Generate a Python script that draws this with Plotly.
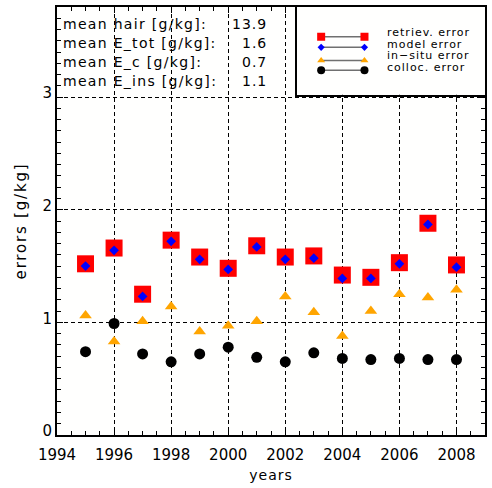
import plotly.graph_objects as go

years = [1995, 1996, 1997, 1998, 1999, 2000, 2001, 2002, 2003, 2004, 2005, 2006, 2007, 2008]
retriev_err = [1.52, 1.66, 1.25, 1.73, 1.58, 1.48, 1.68, 1.58, 1.59, 1.42, 1.40, 1.53, 1.88, 1.51]
model_err = [1.50, 1.64, 1.23, 1.72, 1.56, 1.47, 1.67, 1.56, 1.57, 1.39, 1.39, 1.52, 1.87, 1.49]
insitu_err = [1.06, 0.83, 1.01, 1.14, 0.92, 0.97, 1.01, 1.23, 1.09, 0.88, 1.10, 1.25, 1.22, 1.29]
colloc_err = [0.74, 0.99, 0.72, 0.65, 0.72, 0.78, 0.69, 0.65, 0.73, 0.68, 0.67, 0.68, 0.67, 0.67]

mean_labels = ["mean hair [g/kg]:", "mean E_tot [g/kg]:", "mean E_c [g/kg]:", "mean E_ins [g/kg]:"]
mean_values = ["13.9", "1.6", "0.7", "1.1"]

legend_names = ["retriev. error", "model error", "in\u2212situ error", "colloc. error"]

FONT = "DejaVu Sans"
GRIDDASH = "4px,3px"


def spaced(t, ls):
    return '<span style="letter-spacing:%.1fpx">%s</span>' % (ls, t)


fig = go.Figure()

series = [
    (retriev_err, "square", 17, "#ff0000", 8),
    (model_err, "diamond", 7.5, "#0000ff", 5.5),
    (insitu_err, "triangle-up", 11, "#ffa500", 7),
    (colloc_err, "circle", 11, "#000000", 8),
]
for vals, sym, sz, col, _ in series:
    fig.add_trace(go.Scatter(x=years, y=vals, mode="markers",
                             marker=dict(symbol=sym, size=sz, color=col, line=dict(width=0)),
                             xaxis="x", yaxis="y", showlegend=False, hoverinfo="skip"))

# legend box as its own small subplot (fractions of the box)
LB_X = [0.560, 1.0]
LB_Y = [0.795, 1.0]
leg_x = [0.13, 0.36]
leg_y = [0.66, 0.54, 0.39, 0.28]
for (vals, sym, sz, col, lsz), ly in zip(series, leg_y):
    fig.add_trace(go.Scatter(x=leg_x, y=[ly, ly], mode="lines+markers", xaxis="x2", yaxis="y2",
                             line=dict(color="#707070", width=1.5),
                             marker=dict(symbol=sym, size=lsz, color=col, line=dict(width=0)),
                             showlegend=False, hoverinfo="skip"))

annotations = []
leg_text = "<br>".join('<span style="font-size:11px;letter-spacing:1px">%s</span>' % n
                       for n in legend_names)
annotations.append(dict(x=0.47, y=0.51, xref="x2", yref="y2", text=leg_text, showarrow=False,
                        xanchor="left", yanchor="middle", align="left",
                        font=dict(family=FONT, size=9.0, color="black")))

mean_y = [0.961, 0.915, 0.871, 0.826]
for lab, val, my in zip(mean_labels, mean_values, mean_y):
    annotations.append(dict(x=0.0105, y=my, xref="x domain", yref="y domain", text=spaced(lab, 1.3),
                            showarrow=False, xanchor="left", yanchor="middle",
                            font=dict(family=FONT, size=14, color="black")))
    annotations.append(dict(x=0.495, y=my, xref="x domain", yref="y domain", text=spaced(val, 1.0),
                            showarrow=False, xanchor="right", yanchor="middle",
                            font=dict(family=FONT, size=14, color="black")))

axis_common = dict(showline=True, linecolor="black", linewidth=2, mirror="allticks",
                   ticks="inside", ticklen=6, tickwidth=1.2, tickcolor="black",
                   showgrid=True, gridcolor="black", griddash=GRIDDASH, gridwidth=1,
                   zeroline=False, automargin=False,
                   tickfont=dict(family=FONT, size=15, color="black"))

fig.update_layout(
    width=492, height=488,
    margin=dict(l=57, r=5, t=5, b=53),
    paper_bgcolor="white", plot_bgcolor="#fffffe",
    xaxis=dict(range=[1994, 2009], tick0=1994, dtick=2, domain=[0, 1], ticklabelstandoff=5,
               minor=dict(dtick=0.5, ticks="inside", ticklen=4, tickcolor="black", showgrid=False),
               title=dict(text=spaced("years", 1.0), font=dict(family=FONT, size=14, color="black"),
                          standoff=7),
               **axis_common),
    yaxis=dict(range=[0, 3.8], tick0=0, dtick=1, domain=[0, 1], ticklabelshift=-4,
               minor=dict(dtick=0.1, ticks="inside", ticklen=4, tickcolor="black", showgrid=False),
               title=dict(text=spaced("errors [g/kg]", 1.8),
                          font=dict(family=FONT, size=15, color="black"), standoff=12),
               **axis_common),
    xaxis2=dict(domain=LB_X, anchor="y2", range=[0, 1], showgrid=False, zeroline=False,
                showticklabels=False, ticks="", showline=True, mirror=True,
                linecolor="black", linewidth=1.5, fixedrange=True),
    yaxis2=dict(domain=LB_Y, anchor="x2", range=[0, 1], showgrid=False, zeroline=False,
                showticklabels=False, ticks="", showline=True, mirror=True,
                linecolor="black", linewidth=1.5, fixedrange=True),
    annotations=annotations,
)

fig.write_html("out.html", config={"displayModeBar": False},
               post_script="document.body.style.margin='0';")
